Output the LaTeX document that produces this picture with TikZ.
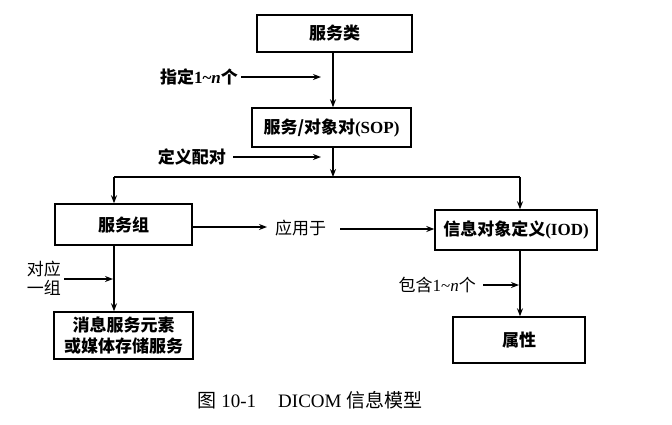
\documentclass[tikz,border=0pt]{standalone}
\usepackage{fontspec}
\setmainfont{Liberation Serif}
\newfontfamily\cjk{Noto Sans CJK SC}
\usetikzlibrary{arrows.meta}
\begin{document}
\begin{tikzpicture}[x=1pt,y=-1pt,
  box/.style={draw,line width=1.4pt,minimum width=#1,inner sep=0pt,align=center,font=\fontsize{17}{21}\selectfont\bfseries},
  lbl/.style={inner sep=0pt,font=\fontsize{17}{19}\selectfont},
  arr/.style={line width=1.3pt,-{Stealth[length=8pt,width=6pt]}},
  ln/.style={line width=1.3pt}]
\useasboundingbox (0,0) rectangle (672,424);
% boxes
\node[box=155pt,minimum height=37pt] (svc) at (334.5,33.5) {\cjk 服务类};
\node[box=159pt,minimum height=39pt] (sop) at (331.5,127.5) {\cjk 服务/对象对\normalfont\bfseries(SOP)};
\node[box=137pt,minimum height=41pt] (grp) at (123.5,224.5) {\cjk 服务组};
\node[box=162pt,minimum height=40pt] (iod) at (516,230) {\cjk 信息对象定义\normalfont\bfseries(IOD)};
\node[box=132pt,minimum height=46pt] (attr) at (519,340) {\cjk 属性};
\node[box=139pt,minimum height=47pt] (msg) at (123.5,335.5) {\cjk 消息服务元素\\\cjk 或媒体存储服务};
% line positions
\coordinate (xa) at (333,177);
\coordinate (xl) at (114,177);
\coordinate (xr) at (520,177);
% main connectors
\draw[arr] (svc.south -| xa) -- (sop.north -| xa);
\draw[arr] (sop.south -| xa) -- (xa);
\draw[ln] (xl) -- (xr);
\draw[arr] (xl) -- (grp.north -| xl);
\draw[arr] (xr) -- (iod.north -| xr);
\draw[arr] (grp.south -| xl) -- (msg.north -| xl);
\draw[arr] (iod.south -| xr) -- (attr.north -| xr);
% side labels
\node[lbl,anchor=east] (l1) at (238,77) {\cjk\bfseries 指定\normalfont\bfseries 1\textasciitilde\textit{n}\cjk\bfseries 个};
\coordinate (s1) at (241,77);
\coordinate (e1) at (321,77);
\draw[arr] (s1) -- (e1);
\node[lbl,anchor=east] (l2) at (226,157) {\cjk\bfseries 定义配对};
\coordinate (s2) at (233,157);
\coordinate (e2) at (321,157);
\draw[arr] (s2) -- (e2);
\node[lbl,anchor=west] (l3) at (275,228) {\cjk 应用于};
\coordinate (e3) at (267,227);
\draw[arr] (grp.east |- e3) -- (e3);
\coordinate (s4) at (340,229);
\draw[arr] (s4) -- (iod.west |- s4);
\node[lbl,anchor=east,align=center] (l4) at (61,278) {\cjk 对应\\\cjk 一组};
\coordinate (s5) at (64,279);
\coordinate (e5) at (113,279);
\draw[arr] (s5) -- (e5);
\node[lbl,anchor=east] (l5) at (476,285) {\cjk 包含\normalfont 1\textasciitilde\textit{n}\cjk 个};
\coordinate (s6) at (483,285);
\coordinate (e6) at (519,285);
\draw[arr] (s6) -- (e6);
% caption
\node[inner sep=0pt,font=\fontsize{19}{22}\selectfont] (cap) at (310,400) {\cjk 图\normalfont\ 10-1\hspace{22pt}DICOM \cjk 信息模型};
\end{tikzpicture}
\end{document}
